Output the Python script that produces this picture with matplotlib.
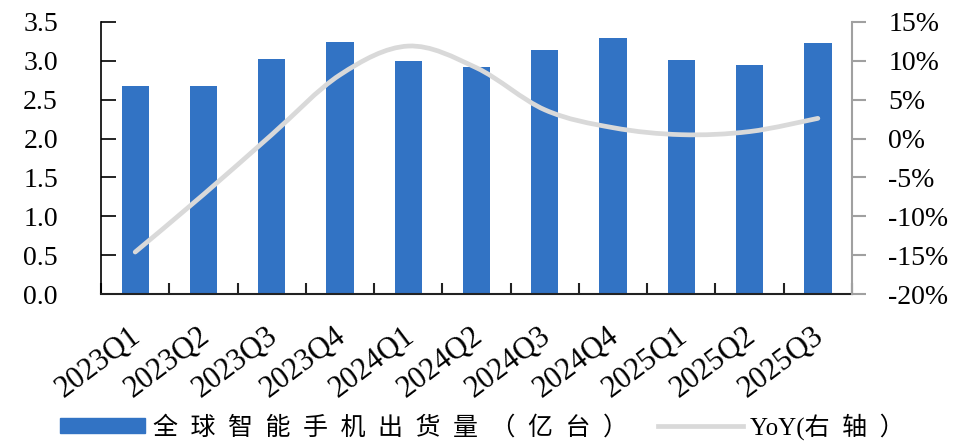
import numpy as np
import matplotlib
matplotlib.use('Agg')
import matplotlib.pyplot as plt
import matplotlib.transforms as mtransforms
from matplotlib.path import Path
from matplotlib.patches import PathPatch
from matplotlib.lines import Line2D
from matplotlib.ticker import FixedLocator, NullFormatter

plt.rcParams['font.family'] = ['Liberation Serif', 'Noto Sans CJK SC', 'DejaVu Sans']

# 数据
quarters = ['2023Q1', '2023Q2', '2023Q3', '2023Q4', '2024Q1', '2024Q2',
            '2024Q3', '2024Q4', '2025Q1', '2025Q2', '2025Q3']
shipments = [2.68, 2.67, 3.03, 3.24, 3.00, 2.92, 3.14, 3.29, 3.01, 2.95, 3.23]
yoy = [-14.6, -7.2, 0.5, 8.2, 11.9, 9.1, 3.7, 1.4, 0.5, 0.9, 2.6]
left_ticks = [0.0, 0.5, 1.0, 1.5, 2.0, 2.5, 3.0, 3.5]
right_ticks = [-20, -15, -10, -5, 0, 5, 10, 15]
right_labels = ['-20%', '-15%', '-10%', '-5%', '0%', '5%', '10%', '15%']
bar_label = '全球智能手机出货量（亿台）'
line_label = 'YoY(右轴）'

bar_color = '#3273C4'
line_color = '#D9D9D9'

fig = plt.figure(figsize=(9.66, 4.44), dpi=100)
fig.subplots_adjust(left=0.1046, right=0.882, top=0.9505, bottom=0.3378)
ax = fig.add_subplot(111)
ax2 = ax.twinx()

x = np.arange(len(quarters))
ax.bar(x, shipments, width=0.4, color=bar_color, zorder=2)
ax.set_xlim(-0.5, len(quarters) - 0.5)
ax.set_ylim(0, 3.5)
ax.set_yticks(left_ticks)
ax.set_yticklabels(['%.1f' % v for v in left_ticks])

# 平滑曲线（Catmull-Rom -> 贝塞尔）
pts = np.column_stack([x, yoy]).astype(float)
verts = [tuple(pts[0])]
codes = [Path.MOVETO]
for i in range(len(pts) - 1):
    p0 = pts[i - 1] if i > 0 else pts[i]
    p1 = pts[i]
    p2 = pts[i + 1]
    p3 = pts[i + 2] if i + 2 < len(pts) else pts[i + 1]
    c1 = p1 + (p2 - p0) / 6.0
    c2 = p2 - (p3 - p1) / 6.0
    verts += [tuple(c1), tuple(c2), tuple(p2)]
    codes += [Path.CURVE4] * 3
ax2.add_patch(PathPatch(Path(verts, codes), facecolor='none', edgecolor=line_color,
                        lw=3.4, capstyle='round', zorder=3))
ax2.set_ylim(-20, 15)
ax2.set_yticks(right_ticks)
ax2.set_yticklabels(right_labels)

# 坐标轴样式
for a in (ax, ax2):
    a.spines['top'].set_visible(False)
ax.spines['right'].set_visible(False)
ax2.spines['left'].set_visible(False)
ax2.spines['bottom'].set_visible(False)
ax.spines['left'].set_color('black')
ax.spines['bottom'].set_color('#222222')
ax.spines['left'].set_linewidth(1.2)
ax.spines['bottom'].set_linewidth(1.5)
ax2.spines['right'].set_color('#A0A0A0')
ax2.spines['right'].set_linewidth(1.5)

ax.tick_params(axis='y', direction='in', length=11, width=1.2, pad=31, labelsize=20)
ax2.tick_params(axis='y', direction='out', length=10, width=1.5, color='#A0A0A0',
                pad=16, labelsize=20)

ax.set_xticks(x)
ax.set_xticklabels(quarters, rotation=37, ha='right', va='top',
                   rotation_mode='anchor', fontsize=22)
ax.tick_params(axis='x', which='major', length=0, pad=20)
shift = mtransforms.ScaledTranslation(-6 / 100, 0, fig.dpi_scale_trans)
for lab in ax.get_xticklabels():
    lab.set_transform(lab.get_transform() + shift)
ax.xaxis.set_minor_locator(FixedLocator(np.arange(-0.5, len(quarters), 1.0)))
ax.xaxis.set_minor_formatter(NullFormatter())
ax.tick_params(axis='x', which='minor', direction='in', length=8, width=1.5, color='#222222')

# 图例
spaced = lambda s: '  '.join(s)
handles = [plt.Rectangle((0, 0), 1, 1, color=bar_color),
           Line2D([0], [0], color=line_color, lw=3.4)]
fig.legend(handles, [spaced(bar_label), 'YoY(' + spaced('右轴）')],
           loc='center left', bbox_to_anchor=(0.052, 0.04), ncol=2, frameon=False,
           fontsize=18, handlelength=3.4, handleheight=0.55, handletextpad=0.3,
           columnspacing=1.2, borderaxespad=0)

fig.savefig('out.png', dpi=100)
